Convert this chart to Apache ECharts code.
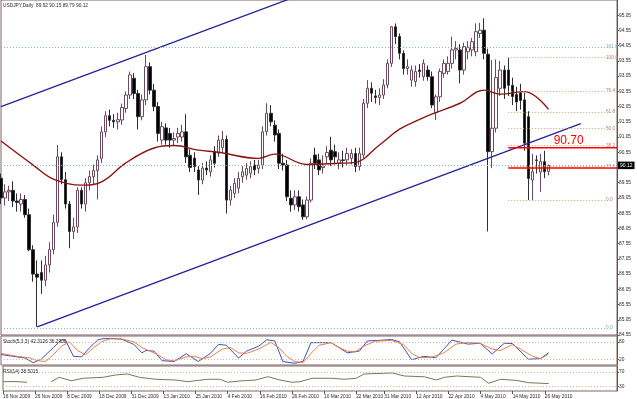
<!DOCTYPE html>
<html>
<head>
<meta charset="utf-8">
<script src="https://cdn.jsdelivr.net/npm/echarts@6/dist/echarts.min.js"></script>
<style>
html,body{margin:0;padding:0;background:#fff}
#chart{width:637px;height:399px}
</style>
</head>
<body>
<div id="chart"></div>
<script>
// trading days on the chart: 16 Nov 2009 .. 27 May 2010, no weekends, no 25 Dec / 1 Jan
const months = ['Jan','Feb','Mar','Apr','May','Jun','Jul','Aug','Sep','Oct','Nov','Dec']
const holidays = ['2009-12-25','2010-01-01']
const dates = []
for (let d = new Date(Date.UTC(2009,10,16)); d <= new Date(Date.UTC(2010,4,27)); d.setUTCDate(d.getUTCDate()+1)) {
  const wd = d.getUTCDay()
  if (wd === 0 || wd === 6 || holidays.includes(d.toISOString().slice(0,10))) continue
  dates.push(d.getUTCDate() + ' ' + months[d.getUTCMonth()] + ' ' + d.getUTCFullYear())
}
// empty room right of the last bar (chart shift)
const slots = 154
const cats = dates.slice()
for (let k = 0; cats.length < slots; k++) cats.push('+' + k)

// bars that get a date label
const labelIdx = [0,8,16,24,32,40,48,56,64,72,80,88,95,103,111,119,127,135]

// [open, close, low, high]
const candles = [
[89.70,89.05,88.85,89.85],[89.05,89.25,88.80,89.50],[89.25,89.30,88.95,89.45],[89.30,88.95,88.75,89.60],[88.95,88.90,88.60,89.20],
[88.85,89.00,88.60,89.20],[89.00,88.50,88.40,89.15],[88.50,87.35,87.30,88.70],[87.35,86.55,86.30,87.50],[86.55,86.45,84.82,87.00],
[86.60,86.35,85.90,87.00],[86.35,86.85,86.15,87.15],[86.85,87.35,86.60,87.60],[87.35,88.25,87.20,88.50],[88.25,90.40,88.10,90.79],
[90.40,89.65,89.50,90.55],[89.65,88.85,88.70,89.90],[88.85,87.95,87.40,88.95],[87.95,88.10,87.70,88.40],[88.10,89.30,87.90,89.40],
[89.30,88.85,88.70,89.40],[88.85,89.55,88.60,89.70],[89.55,89.75,89.30,89.95],[89.75,89.95,89.50,90.15],[89.95,90.30,89.00,90.45],
[90.35,91.22,90.20,91.40],[91.22,91.75,91.05,91.90],[91.75,91.60,91.40,91.95],[91.60,91.55,91.35,91.80],[91.55,91.62,91.30,91.85],
[91.61,92.02,91.45,92.15],[91.99,92.43,91.85,92.55],[92.43,93.09,92.30,93.20],[92.98,92.48,92.30,93.15],[92.48,91.72,91.30,92.60],
[91.72,92.27,91.60,92.45],[92.27,93.36,92.10,93.74],[93.36,92.59,92.45,93.50],[92.59,92.05,91.90,92.80],[92.05,91.17,90.90,92.20],
[90.95,91.39,90.80,91.55],[91.35,90.95,90.80,91.50],[91.17,90.95,90.70,91.35],[90.95,91.00,90.75,91.20],[91.05,91.17,90.85,91.35],
[91.05,91.22,90.90,91.45],[91.22,90.40,90.20,91.80],[90.45,90.05,89.90,90.65],[90.36,90.08,89.90,90.55],[89.97,89.64,89.15,90.10],
[89.64,90.03,89.50,90.20],[90.03,89.97,89.80,90.25],[89.91,90.30,89.75,90.45],[90.57,90.19,90.05,90.75],[90.52,90.95,90.40,91.10],
[90.70,90.97,90.55,91.25],[90.97,88.98,88.54,91.10],[88.98,89.31,88.80,89.45],[89.20,89.53,89.05,89.70],[89.37,89.69,89.20,89.90],
[89.75,89.91,89.55,90.10],[89.80,90.02,89.65,90.20],[89.86,90.08,89.70,90.25],[90.13,89.97,89.80,90.30],[90.02,90.13,89.85,90.30],
[90.13,91.22,90.00,91.40],[91.23,91.83,91.10,92.16],[91.83,91.55,91.40,92.10],[91.44,91.12,90.90,91.60],[91.17,90.19,90.00,91.30],
[90.19,90.13,89.95,90.50],[90.13,89.09,88.95,90.30],[89.04,88.82,88.60,89.30],[88.82,89.09,88.65,89.30],[89.09,88.76,88.60,89.30],
[88.82,88.43,88.33,89.00],[88.43,88.98,88.35,89.10],[88.98,90.19,88.90,90.35],[90.46,90.19,90.00,90.70],[90.30,89.97,89.80,90.50],
[90.05,90.10,89.85,90.45],[90.40,90.54,90.20,90.75],[90.62,90.30,90.10,91.06],[90.57,90.40,90.15,90.80],[90.19,90.30,90.00,90.55],
[90.30,90.28,90.05,90.60],[90.30,90.51,90.10,90.70],[90.35,90.51,90.15,90.65],[90.51,90.08,89.90,90.70],[90.08,90.51,89.95,90.70],
[90.46,92.16,90.35,92.30],[92.16,92.65,92.00,92.92],[92.65,92.49,92.20,92.85],[92.40,92.35,92.15,92.60],[92.35,92.43,92.10,92.65],
[92.43,92.76,92.30,92.95],[92.76,93.47,92.65,93.60],[93.47,94.67,93.35,94.70],[94.67,94.35,94.10,94.78],[94.35,93.80,93.60,94.45],
[93.80,93.30,93.10,93.90],[93.30,93.36,93.10,93.60],[92.92,93.25,92.70,93.40],[92.87,93.20,92.70,93.40],[93.25,93.20,93.00,93.45],
[93.03,93.47,92.90,93.60],[93.25,93.03,92.90,93.40],[93.03,92.10,92.00,93.20],[91.85,92.37,91.61,92.45],[92.37,93.20,92.20,93.30],
[93.14,93.47,93.00,93.60],[93.20,93.47,93.10,93.70],[93.47,93.91,93.30,94.35],[93.91,93.96,93.60,94.20],[93.91,93.25,92.81,94.10],
[93.25,94.02,93.10,94.15],[93.85,94.00,93.60,94.20],[93.91,94.18,93.70,94.30],[93.85,94.51,93.70,94.78],[94.45,94.56,94.30,94.80],
[94.56,93.80,93.60,94.95],[93.77,90.57,87.95,93.95],[90.57,91.34,90.03,93.58],[91.34,93.00,91.20,93.60],[92.65,93.25,92.40,93.55],
[93.25,92.65,92.30,93.40],[93.25,92.75,92.40,93.65],[92.75,92.38,92.10,93.00],[92.45,92.20,91.90,92.70],[92.50,92.25,91.95,92.80],
[92.27,90.85,90.60,92.50],[91.72,89.69,88.98,91.90],[89.64,89.91,88.98,90.50],[90.30,90.28,89.85,90.45],[89.90,90.25,89.25,90.50],
[90.24,89.91,89.70,90.60],[89.92,90.12,89.79,90.15]
]

// moving average at a few bars: [bar, price]
const maPts = [[0,90.92],[8,90.13],[13,89.67],[20,89.47],[25,89.58],[31,90.20],[38,90.69],[43,90.77],[49,90.62],[54,90.55],
[64,90.35],[68,90.49],[76,90.15],[84,90.19],[88,90.22],[94,90.79],[99,91.31],[104,91.63],[107,91.80],[114,92.16],
[120,92.59],[124,92.46],[130,92.54],[136,91.96]]

// drawn objects: channel, resistance / support, fibonacci
const channelUp = [[0,92.05],[90,96.49]]
const channelDown = [[9,84.82],[144,91.49]]
const resist = 90.70
const support = 90.03
const fibHigh = 93.67, fibLow = 88.98
const fibLevels = [0, 23.6, 38.2, 50.0, 61.8, 76.4, 100.0]
const fibFrom = 126, fibTo = 150
const bid = 90.12
const rays = [94.01, 84.78]
const rayNames = ['161.8', '0.0']

// stochastic (5,3,3) main and signal, RSI(14): [bar, value]
const stochMain = [[0,36],[3,30],[6,24],[8,8],[10,20],[13,60],[15,87],[16,86],[18,30],[20,28],[22,60],[24,86],[25,90],[27,92],
[30,89],[33,71],[35,42],[36,50],[38,48],[40,15],[43,12],[46,39],[47,30],[49,12],[52,40],[54,71],[56,68],[59,24],[61,48],[64,65],
[66,87],[68,83],[70,12],[73,6],[75,12],[77,77],[80,77],[82,77],[86,42],[89,48],[91,83],[94,85],[97,88],[99,80],[102,18],[105,30],
[108,25],[110,55],[112,86],[116,72],[119,75],[122,38],[125,75],[127,74],[131,20],[134,22],[136,42.3]]
const stochSig = [[0,40],[4,30],[7,25],[9,15],[11,12],[13,35],[15,65],[17,80],[19,50],[21,35],[23,60],[25,80],[27,90],[30,90],
[33,80],[35,60],[37,48],[39,35],[41,18],[43,14],[46,28],[48,30],[50,22],[52,28],[55,55],[57,60],[59,42],[61,40],[64,55],[67,78],
[69,60],[71,30],[73,12],[75,8],[77,40],[79,68],[82,77],[84,60],[86,48],[88,45],[90,65],[93,82],[97,85],[100,70],[102,40],[104,25],
[107,27],[110,42],[113,72],[116,78],[119,75],[122,55],[124,50],[127,70],[129,55],[132,30],[134,22],[136,36.3]]
const rsi = [[0,43.6],[3,44],[6,42],null,[12,43.6],[14,55.6],[17,46.3],[20,52.9],[25,55.6],[28,61.9],[31,64.6],[34,55.6],[38,50.2],
[43,48.2],[46,43.6],[51,50.2],[54,50.2],[56,42],[59,45.5],[63,48.2],[66,57.2],[69,48.2],[72,42],[74,43.6],[77,52.9],[82,52.9],
[85,50.2],[88,52.9],[90,64.6],[95,66.5],[97,67.5],[100,59.1],[105,57],[108,48.2],[110,55.6],[113,59.1],[119,55.6],[121,39.3],
[124,50.2],[128,47],[131,40.9],[136,38.5]]

const font = 'Liberation Sans, Arial, sans-serif'
const txt = {fontSize: 4.8, fontFamily: font, color: '#2a2a2a', fontWeight: 'normal'}
const border = '#7d6464'
const showLabel = (i) => labelIdx.indexOf(i) >= 0

const chart = echarts.init(document.getElementById('chart'))

const fibLines = fibLevels.map(l => {
  const p = fibLow + (fibHigh - fibLow) * l / 100
  return [{coord: [fibFrom, p], label: {formatter: l.toFixed(1)}}, {coord: [fibTo, p]}]
})
const rayLines = rays.map((p, k) => [{coord: [0, p], label: {formatter: rayNames[k]}}, {coord: [fibTo, p]}])

chart.setOption({
  animation: false,
  backgroundColor: '#fff',
  title: [
    {text: 'USDJPY,Daily  89.92 90.15 89.79 90.12', left: 3, top: 3, padding: 0, textStyle: txt},
    {text: 'Stoch(5,3,3) 42.3126 36.2900', left: 3, top: 339.5, padding: 0, textStyle: txt},
    {text: 'RSI(14) 38.5015', left: 3, top: 369.5, padding: 0, textStyle: txt}
  ],
  grid: [
    {left: 1, top: 0, width: 616, height: 335, show: true, borderColor: border},
    {left: 1, top: 336, width: 616, height: 29, show: true, borderColor: border},
    {left: 1, top: 366, width: 616, height: 25, show: true, borderColor: border}
  ],
  xAxis: [0, 1, 2].map(g => ({
    type: 'category', gridIndex: g, data: cats, boundaryGap: false,
    axisLine: {show: false},
    axisTick: {show: g === 2, interval: showLabel, length: 3, lineStyle: {color: '#555'}},
    axisLabel: {show: g === 2, interval: showLabel, align: 'left', margin: 3, ...txt},
    splitLine: {show: false}
  })),
  yAxis: [
    {type: 'value', gridIndex: 0, position: 'right', min: 84.55, max: 95.55, interval: 0.5,
     axisLine: {show: true, lineStyle: {color: '#6b5060'}}, axisTick: {show: true, length: 2, lineStyle: {color: '#555'}},
     axisLabel: {formatter: v => v.toFixed(2), showMaxLabel: false, margin: 2, ...txt}, splitLine: {show: false}},
    {type: 'value', gridIndex: 1, position: 'right', min: 0, max: 100,
     axisLine: {show: true, lineStyle: {color: '#6b5060'}}, axisTick: {show: true, length: 2, customValues: [20, 80]},
     axisLabel: {customValues: [20, 80], margin: 2, ...txt}, splitLine: {show: false}},
    {type: 'value', gridIndex: 2, position: 'right', min: 18.3, max: 86.3,
     axisLine: {show: true, lineStyle: {color: '#6b5060'}}, axisTick: {show: true, length: 2, customValues: [30, 70]},
     axisLabel: {customValues: [30, 70], margin: 2, ...txt}, splitLine: {show: false}}
  ],
  series: [
    {
      type: 'candlestick', xAxisIndex: 0, yAxisIndex: 0, data: candles, barWidth: 3,
      itemStyle: {color: '#ffffff', color0: '#000000', borderColor: '#6e4a60', borderColor0: '#303030', borderWidth: 1},
      markLine: {
        silent: true, symbol: 'none', animation: false,
        data: [{yAxis: bid, lineStyle: {color: '#7fb7b7', type: [1, 2], width: 1},
                label: {show: true, position: 'end', distance: 1, formatter: bid.toFixed(2), color: '#fff',
                        backgroundColor: '#000', padding: [1.5, 2, 1, 2], fontSize: 5, fontFamily: font}}]
      }
    },
    {type: 'line', xAxisIndex: 0, yAxisIndex: 0, data: maPts, smooth: 0.4, showSymbol: false,
     lineStyle: {color: '#8b1414', width: 1.4}},
    {type: 'line', xAxisIndex: 0, yAxisIndex: 0, data: channelUp, showSymbol: false, lineStyle: {color: '#22229a', width: 1.3}},
    {type: 'line', xAxisIndex: 0, yAxisIndex: 0, data: channelDown, showSymbol: false, lineStyle: {color: '#22229a', width: 1.3}},
    {type: 'line', xAxisIndex: 0, yAxisIndex: 0,
     data: [[fibFrom, resist], [slots - 1, resist], null, [fibFrom, support], [slots - 1, support]],
     showSymbol: false, lineStyle: {color: '#ff0000', width: 1.5},
     markPoint: {symbol: 'circle', symbolSize: 0, silent: true,
       data: [{coord: [141, resist], label: {show: true, position: 'top', distance: 1, formatter: resist.toFixed(2),
         color: '#ff0000', fontSize: 12, fontFamily: font}}]}},
    {type: 'line', xAxisIndex: 0, yAxisIndex: 0, data: [],
     markLine: {silent: true, symbol: 'none', animation: false,
       lineStyle: {color: '#d49a6a', type: [1, 2], width: 1},
       label: {show: true, position: 'end', distance: 1, color: '#b08070', fontSize: 4.8, fontFamily: font},
       data: fibLines}},
    {type: 'line', xAxisIndex: 0, yAxisIndex: 0, data: [],
     markLine: {silent: true, symbol: 'none', animation: false,
       lineStyle: {color: '#7fb7b7', type: [1, 2], width: 1},
       label: {show: true, position: 'end', distance: 1, color: '#80a8a8', fontSize: 4.8, fontFamily: font},
       data: rayLines}},
    {type: 'line', xAxisIndex: 1, yAxisIndex: 1, data: stochMain, showSymbol: false, lineStyle: {color: '#4050c0', width: 1},
     markLine: {silent: true, symbol: 'none', animation: false, label: {show: false},
       lineStyle: {color: '#c8b8a8', type: [1, 2], width: 1}, data: [{yAxis: 80}, {yAxis: 20}]}},
    {type: 'line', xAxisIndex: 1, yAxisIndex: 1, data: stochSig, showSymbol: false, lineStyle: {color: '#e8804a', width: 1}},
    {type: 'line', xAxisIndex: 2, yAxisIndex: 2, data: rsi, showSymbol: false, connectNulls: false,
     lineStyle: {color: '#6a7f5a', width: 1},
     markLine: {silent: true, symbol: 'none', animation: false, label: {show: false},
       lineStyle: {color: '#c8b8a8', type: [1, 2], width: 1}, data: [{yAxis: 70}, {yAxis: 30}]}}
  ]
})
</script>
</body>
</html>
